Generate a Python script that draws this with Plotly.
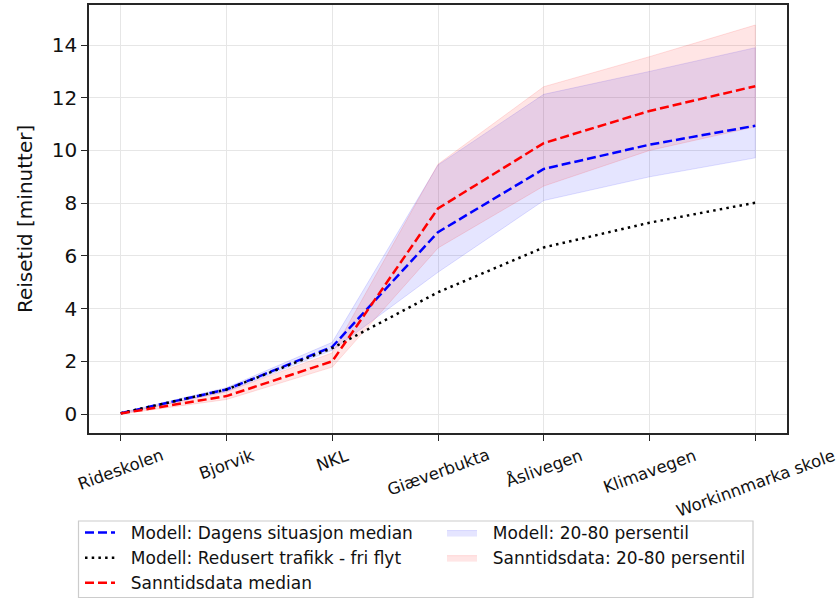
import plotly.graph_objects as go

categories = ["Rideskolen", "Bjorvik", "NKL", "Giæverbukta", "Åslivegen", "Klimavegen", "Workinnmarka skole"]

modell_median = [0.03, 0.93, 2.55, 6.9, 9.3, 10.22, 10.94]
redusert_fri_flyt = [0.03, 0.93, 2.5, 4.62, 6.32, 7.26, 8.02]
sanntid_median = [0.02, 0.68, 2.0, 7.8, 10.28, 11.5, 12.44]

modell_p20 = [0.0, 0.85, 2.42, 5.38, 8.1, 9.0, 9.72]
modell_p80 = [0.05, 1.0, 2.72, 9.45, 12.13, 13.0, 13.9]
sanntid_p20 = [0.0, 0.55, 1.78, 6.3, 8.65, 10.0, 10.9]
sanntid_p80 = [0.05, 0.85, 2.32, 9.48, 12.42, 13.56, 14.76]

yticks = [0, 2, 4, 6, 8, 10, 12, 14]

FONT = "DejaVu Sans"
W, H = 839, 599
ML, MR, MT, MB = 89, 52, 5, 166
PW, PH = W - ML - MR, H - MT - MB
PAD = "\u00a0\u00a0"  # small gap between legend symbol and text


def px_to_paper_y(py):
    return (H - MB - py) / PH


def px_to_paper_x(px):
    return (px - ML) / PW


fig = go.Figure()


def band(lo, hi, color, name):
    xs = categories + categories[::-1]
    ys = hi + lo[::-1]
    fig.add_trace(go.Scatter(
        x=xs, y=ys, fill="toself", mode="lines",
        fillcolor=f"rgba({color},0.1)",
        line=dict(color=f"rgba({color},0.12)", width=1),
        name=PAD + name, legend="legend2", hoverinfo="skip",
    ))


band(modell_p20, modell_p80, "0,0,255", "Modell: 20-80 persentil")
band(sanntid_p20, sanntid_p80, "255,0,0", "Sanntidsdata: 20-80 persentil")

fig.add_trace(go.Scatter(
    x=categories, y=modell_median, mode="lines",
    line=dict(color="blue", width=2.5, dash="9px,4px"),
    name=PAD + "Modell: Dagens situasjon median", legend="legend",
))
fig.add_trace(go.Scatter(
    x=categories, y=redusert_fri_flyt, mode="lines",
    line=dict(color="black", width=2.5, dash="2.5px,4.2px"),
    name=PAD + "Modell: Redusert trafikk - fri flyt", legend="legend",
))
fig.add_trace(go.Scatter(
    x=categories, y=sanntid_median, mode="lines",
    line=dict(color="red", width=2.5, dash="9px,4px"),
    name=PAD + "Sanntidsdata median", legend="legend",
))

# rotated x tick labels (centered like matplotlib)
for c in categories:
    fig.add_annotation(
        x=c, xref="x", y=0, yref="paper", yanchor="top", xanchor="center",
        yshift=-10, text=c, textangle=-20, showarrow=False,
        font=dict(family=FONT, size=16.5, color="#111111"),
    )

# y axis label
fig.add_annotation(
    x=px_to_paper_x(25), xref="paper", y=0.5, yref="paper",
    xanchor="center", yanchor="middle", text="Reisetid [minutter]", textangle=-90,
    showarrow=False, font=dict(family=FONT, size=20, color="#111111"),
)

# legend frame
fig.add_shape(
    type="rect", xref="paper", yref="paper",
    x0=px_to_paper_x(78.5), x1=px_to_paper_x(753), y0=px_to_paper_y(521), y1=px_to_paper_y(597.5),
    line=dict(color="#cccccc", width=1.2), fillcolor="rgba(255,255,255,0.8)", layer="above",
)

legend_font = dict(family=FONT, size=17, color="#111111")
common_legend = dict(
    xref="container", yref="container", xanchor="left", yanchor="top",
    orientation="v", font=legend_font, bgcolor="rgba(0,0,0,0)", borderwidth=0,
    tracegroupgap=0, itemwidth=30,
)
fig.update_layout(
    width=W, height=H,
    margin=dict(l=ML, r=MR, t=MT, b=MB, pad=0, autoexpand=False),
    plot_bgcolor="white", paper_bgcolor="white",
    font=dict(family=FONT, color="#111111"),
    showlegend=True,
    legend=dict(x=80 / W, y=(H - 515) / H, **common_legend),
    legend2=dict(x=442 / W, y=(H - 515) / H, **common_legend),
    xaxis=dict(
        type="category", range=[-0.3, 6.3],
        showgrid=True, gridcolor="#e6e6e6", gridwidth=1.2,
        showline=True, linecolor="#262626", linewidth=1.5, mirror=True,
        ticks="outside", ticklen=6, tickwidth=1.3, tickcolor="#262626",
        showticklabels=False, zeroline=False,
    ),
    yaxis=dict(
        range=[-0.72, 15.52], tickvals=yticks,
        showgrid=True, gridcolor="#e6e6e6", gridwidth=1.2,
        showline=True, linecolor="#262626", linewidth=1.5, mirror=True,
        ticks="outside", ticklen=6, tickwidth=1.3, tickcolor="#262626",
        tickfont=dict(family=FONT, size=20, color="#111111"),
        zeroline=False,
    ),
)

fig.write_html("out.html")
